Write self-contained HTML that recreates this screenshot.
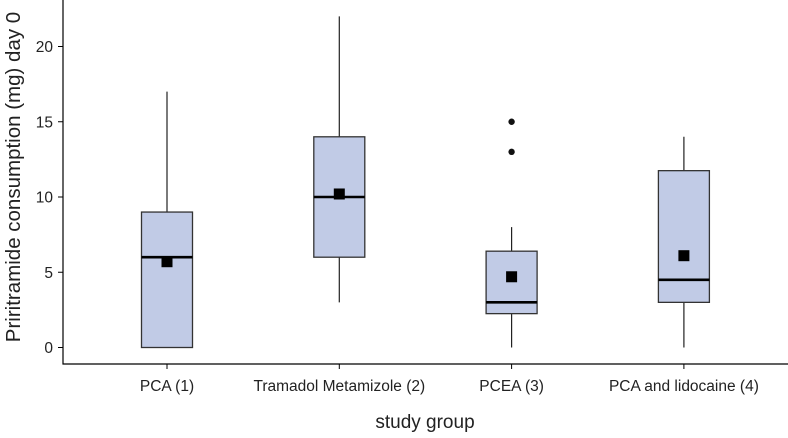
<!DOCTYPE html>
<html><head><meta charset="utf-8"><style>
body{margin:0;background:#fff}
svg text{font-family:"Liberation Sans",Arial,sans-serif;fill:#222}
</style></head><body>
<svg id="c" width="788" height="433"></svg>
<script>
const categories=["PCA (1)","Tramadol Metamizole (2)","PCEA (3)","PCA and lidocaine (4)"];
const q1=[0,6,2.25,3];
const medians=[6,10,3,4.5];
const q3=[9,14,6.4,11.75];
const whiskLow=[0,3,0,0];
const whiskHigh=[17,22,8,14];
const means=[5.7,10.2,4.7,6.1];
const outliers=[[],[],[13,15],[]];
const yTicks=[0,5,10,15,20];
const NS="http://www.w3.org/2000/svg";
const svg=document.getElementById('c');
const y=v=>347.5-v*15.05;
const x=i=>167+i*172.3;
function mk(t,a,p){const e=document.createElementNS(NS,t);for(const k in a)e.setAttribute(k,a[k]);(p||svg).appendChild(e);return e;}
let e;
e=mk('line',{x1:63,y1:0,x2:63,y2:364.5,stroke:'#000','stroke-width':1.2});


e=mk('line',{x1:62.5,y1:364,x2:788,y2:364,stroke:'#000','stroke-width':1.2});


yTicks.forEach(t=>{
 e=mk('line',{x1:58,y1:y(t),x2:63,y2:y(t),stroke:'#000'});
 
 
 e=mk('text',{x:53,y:y(t)+5.5,'text-anchor':'end','font-size':15.5});
 e.textContent=t;
 
 
});
categories.forEach((c,i)=>{
 const cx=x(i),w=51;
 e=mk('line',{x1:cx,y1:364,x2:cx,y2:369,stroke:'#000'});
 
 
 e=mk('text',{x:cx,y:391,'text-anchor':'middle','font-size':15.5});
 e.textContent=c;
 
 
 e=mk('line',{x1:cx,y1:y(whiskLow[i]),x2:cx,y2:y(whiskHigh[i]),stroke:'#222','stroke-width':1.2});
 
 
 e=mk('rect',{x:cx-w/2,y:y(q3[i]),width:w,height:y(q1[i])-y(q3[i]),fill:'#c1cbe6',stroke:'#333','stroke-width':1.3});
 
 
 e=mk('line',{x1:cx-w/2,y1:y(medians[i]),x2:cx+w/2,y2:y(medians[i]),stroke:'#000','stroke-width':2.6});
 
 
 e=mk('rect',{x:cx-5.5,y:y(means[i])-5.5,width:11,height:11,fill:'#000'});
 
 
 outliers[i].forEach(o=>{
  e=mk('circle',{cx:cx,cy:y(o),r:3.2,fill:'#111'});
  
  
 });
});
e=mk('text',{x:425,y:428,'text-anchor':'middle','font-size':19});
e.textContent='study group';


e=mk('text',{x:0,y:0,'text-anchor':'middle','font-size':20.5,transform:'translate(20,177) rotate(-90)'});
e.textContent='Priritramide consumption (mg) day 0';


</script>
</body></html>
